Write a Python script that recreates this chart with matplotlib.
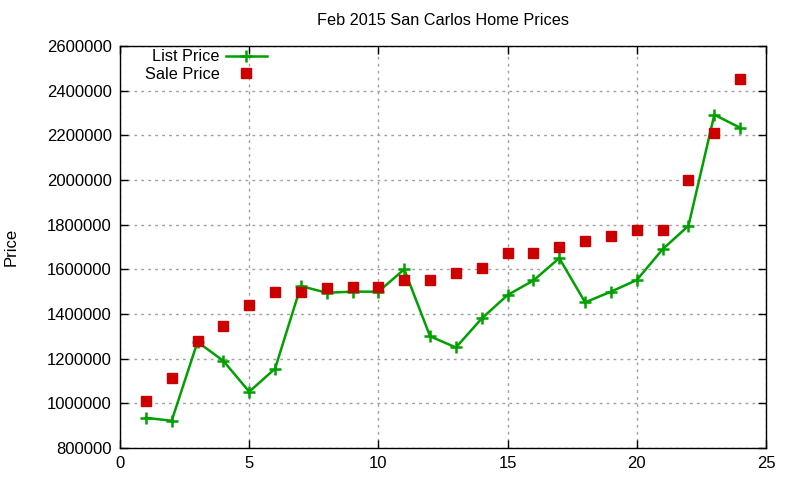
import matplotlib
matplotlib.use("Agg")
import matplotlib.pyplot as plt

x = list(range(1, 25))
list_price = [935000, 922000, 1275000, 1190000, 1052000, 1155000, 1525000, 1495000,
              1500000, 1500000, 1600000, 1300000, 1250000, 1380000, 1485000, 1550000,
              1650000, 1452000, 1500000, 1552000, 1690000, 1795000, 2292000, 2234000]
sale_price = [1012000, 1115000, 1280000, 1348000, 1441000, 1500000, 1500000, 1515000,
              1520000, 1520000, 1550000, 1550000, 1585000, 1605000, 1675000, 1675000,
              1700000, 1728000, 1750000, 1777000, 1777000, 2001000, 2211000, 2452000]
xticks = [0, 5, 10, 15, 20, 25]
yticks = list(range(800000, 2600001, 200000))

plt.rcParams['font.family'] = ['Liberation Sans', 'DejaVu Sans']
fig = plt.figure(figsize=(8, 4.8), dpi=100)
ax = fig.add_axes([0.15, 0.0667, 0.8075, 0.8375])

ax.plot(x, list_price, color='#00a000', lw=1.8, marker='+', ms=9, mew=1.8,
        label='List Price')
ax.plot(x, sale_price, color='#cc0000', lw=0, marker='s', ms=7,
        label='Sale Price')

ax.set_xlim(0, 25)
ax.set_ylim(800000, 2600000)
ax.set_xticks(xticks)
ax.set_yticks(yticks)
ax.set_xticklabels([str(t) for t in xticks])
ax.set_yticklabels([str(t) for t in yticks])
ax.tick_params(direction='in', top=True, right=True, length=6, width=1,
               labelsize=12, pad=6)
ax.grid(True, color='#a0a0a0', linestyle=(0, (2, 3)), linewidth=1)
for s in ax.spines.values():
    s.set_linewidth(1)
    s.set_color('black')

ax.set_title('Feb 2015 San Carlos Home Prices', fontsize=11.7, pad=15)
ax.set_ylabel('Price', fontsize=12, labelpad=20)

leg = ax.legend(loc='upper right', bbox_to_anchor=(0.227, 0.992), frameon=False,
                markerfirst=False, handlelength=2.5, fontsize=11.7,
                labelspacing=0.15, handletextpad=0.4, borderaxespad=0.0,
                borderpad=0.0)

fig.savefig('out.png', dpi=100, facecolor='white')
